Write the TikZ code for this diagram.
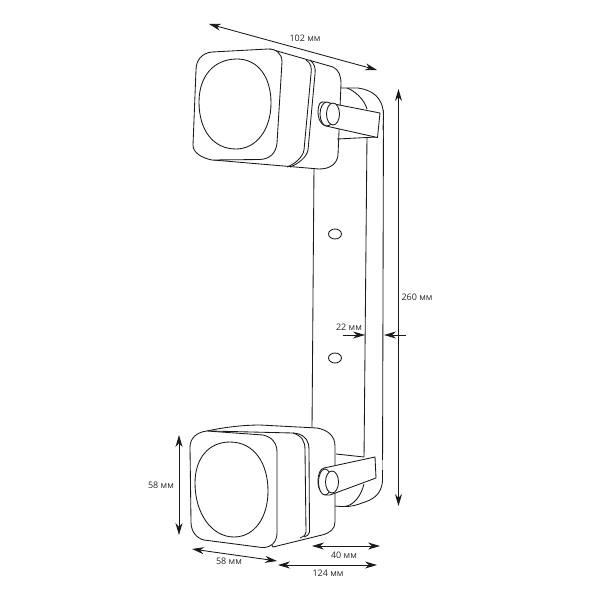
\documentclass[tikz,border=0pt]{standalone}
\usepackage{fontspec}
\setmainfont{Open Sans}
\usetikzlibrary{arrows.meta,positioning}
\tikzset{
  every node/.style={
    font=\fontsize{9}{10}\selectfont,
    text=black!85,
    inner sep=0pt
  },
  outline/.style={
    draw=black!90,
    line width=0.85pt,
    fill=white,
    line join=round
  },
  thinline/.style={
    draw=black!90,
    line width=0.85pt
  },
  dimension/.style={
    draw=black!90,
    line width=0.85pt,
    {Stealth[length=12pt,width=7pt]}-{Stealth[length=12pt,width=7pt]}
  },
  pointer/.style={
    draw=black!90,
    line width=0.85pt,
    -{Stealth[length=12pt,width=7pt]}
  }
}
\begin{document}
\begin{tikzpicture}[x=1pt,y=-1pt]
    \useasboundingbox (0,0) rectangle (600,600);
    % plate and bracket lines
    \draw [thinline] (314,165) -- (312,430);
    \draw [thinline] (367,135) -- (364,460);
    \draw [thinline] (383.5,110) -- (382.5,480);
    \draw [outline] (335,234) ellipse (6.5 and 5);
    \draw [outline] (335,358) ellipse (6.5 and 5);
    % top head
    \fill [white] (340,88) -- (358,88) .. controls (372,90) and (383,97) .. (383.5,115) -- (383,137) -- (340,139) -- cycle;
    \draw [thinline] (340,88) -- (358,88) .. controls (372,90) and (383,97) .. (383.5,115) -- (383,130);
    \draw [thinline] (347,88) .. controls (355,91) and (364,99) .. (367,109);
    \draw [outline] (270,49) -- (333,67) .. controls (339,70) and (341,76) .. (341,84)
      -- (338,155) .. controls (337,164) and (330,169) .. (319,169)
      -- (213,160) -- cycle;
    \draw [thinline] (310,60) .. controls (314,63) and (316,68) .. (315,74)
      -- (308,150) .. controls (307,157) and (298,164) .. (290,167);
    \draw [thinline] (306,60) .. controls (311,63) and (312,68) .. (311,74)
      -- (304,150) .. controls (303,157) and (295,164) .. (287,167);
    \draw [outline] (212,52) -- (268,49) .. controls (277,49) and (282,54) .. (282,62)
      -- (277,143) .. controls (276,153) and (270,159) .. (260,159.5)
      -- (212,160) .. controls (202,158) and (193,153) .. (193,145)
      -- (196,70) .. controls (196,60) and (202,53) .. (212,52) -- cycle;
    \draw [thinline] (237,59) .. controls (258,59) and (271,77) .. (271,103)
      .. controls (271,130) and (256,149) .. (236,149)
      .. controls (213,149) and (199,130) .. (199,102)
      .. controls (199,76) and (214,59) .. (237,59) -- cycle;
    \draw [thinline] (337,139) -- (377,137);
    \draw [outline] (324,102) -- (380,113) -- (377.5,137.5) -- (326,126)
      .. controls (319,124) and (318,116) .. (318,112)
      .. controls (318,105) and (320,101) .. (324,102) -- cycle;
    \draw [outline] (327,114) ellipse (7 and 12);
    \draw [outline] (333,114) ellipse (6.5 and 11);
    % bottom head
    \fill [white] (336,454) -- (364,457) -- (382.5,460) -- (382.5,480)
      .. controls (382,495) and (372,500) .. (362,503)
      .. controls (352,507) and (345,507) .. (335,506) -- cycle;
    \draw [thinline] (336,454) -- (364,457);
    \draw [thinline] (382.5,470) -- (382.5,480)
      .. controls (382,495) and (372,500) .. (362,503)
      .. controls (352,507) and (345,507) .. (335,506);
    \draw [thinline] (364,484) .. controls (361,496) and (354,505) .. (345,506.5);
    \draw [outline] (207,431) .. controls (225,427) and (245,425) .. (260,425)
      -- (317,428) .. controls (328,430) and (335,436) .. (335,446)
      -- (335,522) .. controls (335,529) and (330,533) .. (322,535)
      -- (273,547) -- cycle;
    \draw [thinline] (210,431) -- (293,433) .. controls (302,436) and (305,441) .. (305,450)
      -- (306,532) .. controls (305,536) and (303,537) .. (300,538);
    \draw [thinline] (293,433) -- (297,433.5) .. controls (306,436) and (309,441) .. (309,450)
      -- (309.5,532) .. controls (309,535) and (307,536) .. (304,537);
    \draw [outline] (207,431) -- (263,435) .. controls (272,437) and (277,443) .. (277,452)
      -- (277,533) .. controls (277,542) and (271,548) .. (262,547.5)
      -- (204,540) .. controls (196,538) and (191,531) .. (191,522)
      -- (190,447) .. controls (190,438) and (197,432) .. (207,431) -- cycle;
    \draw [thinline] (230,442) .. controls (254,442) and (268,463) .. (268,491)
      .. controls (268,518) and (254,537) .. (234,537)
      .. controls (212,537) and (195,514) .. (195,483)
      .. controls (195,459) and (208,442) .. (230,442) -- cycle;
    \draw [outline] (324,468) -- (375,457) -- (376,478) -- (330,495)
      .. controls (322,496) and (318,490) .. (318,482)
      .. controls (318,474) and (320,469) .. (324,468) -- cycle;
    \draw [outline] (325,482) ellipse (6.5 and 13);
    \draw [outline] (332,482) ellipse (6.5 and 11);
    % dimensions
    \coordinate (widthStart) at (209,24);
    \coordinate (widthEnd) at (377,70);
    \coordinate (heightTop) at (398.5,89);
    \coordinate (heightBottom) at (398.5,506);
    \coordinate (gapLeft) at (343,335);
    \coordinate (gapLeftTip) at (365,335);
    \coordinate (gapRight) at (406,335);
    \coordinate (gapRightTip) at (384,335);
    \coordinate (sideTop) at (179,435);
    \coordinate (sideBottom) at (179,535);
    \coordinate (frontLeft) at (192,549);
    \coordinate (frontRight) at (277,561);
    \coordinate (armLeft) at (312,546);
    \coordinate (armRight) at (380,546);
    \coordinate (depthLeft) at (278,565);
    \coordinate (depthRight) at (377,565);
    \draw [dimension] (widthStart) -- (widthEnd);
    \draw [dimension] (heightTop) -- (heightBottom);
    \draw [pointer] (gapLeft) -- (gapLeftTip);
    \draw [pointer] (gapRight) -- (gapRightTip);
    \draw [dimension] (sideTop) -- (sideBottom);
    \draw [dimension] (frontLeft) -- (frontRight);
    \draw [dimension] (armLeft) -- (armRight);
    \draw [dimension] (depthLeft) -- (depthRight);
    \node (widthLabel) at (305,38) {102 мм};
    \node (heightLabel) at (417,297) {260 мм};
    \node (gapLabel) at (349,327) {22 мм};
    \node (sideLabel) at (161,485) {58 мм};
    \node (frontLabel) at (229,561) {58 мм};
    \node (armLabel) at (344,555) {40 мм};
    \node (depthLabel) at (328,573) {124 мм};
\end{tikzpicture}
\end{document}
